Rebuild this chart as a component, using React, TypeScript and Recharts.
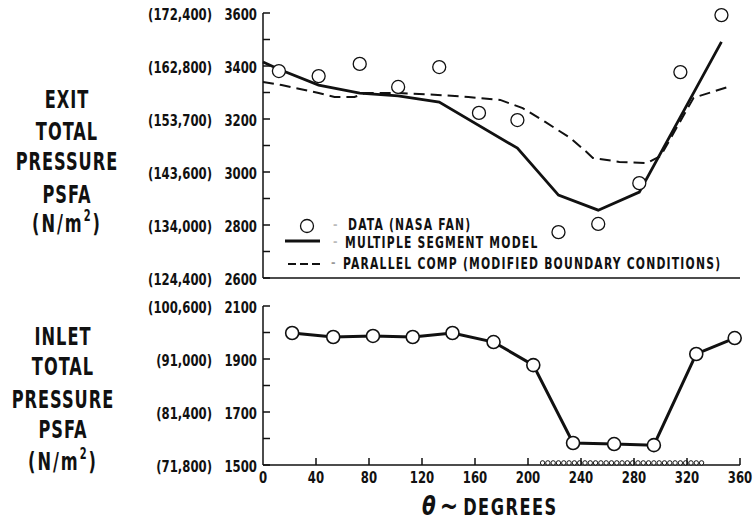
import React from 'react';
import { ComposedChart, Line, Scatter, XAxis, YAxis } from 'recharts';

// exit total pressure (top panel), PSFA vs circumferential angle
const exitDataDeg = [12, 42, 73, 102, 133, 163, 192, 223, 253, 284, 315, 346];
const exitDataPsfa = [3381, 3362, 3408, 3321, 3396, 3223, 3196, 2773, 2804, 2958, 3377, 3592];

const modelDeg = [0, 12, 42, 73, 102, 133, 192, 223, 253, 284, 346];
const modelPsfa = [3415, 3388, 3328, 3298, 3287, 3264, 3090, 2913, 2856, 2924, 3491];

const parallelDeg = [0, 14, 42, 54, 69, 77, 102, 132, 155, 179, 196, 213, 232, 245, 249, 269, 290, 300, 325, 351];
const parallelPsfa = [3340, 3328, 3298, 3283, 3283, 3298, 3298, 3291, 3283, 3272, 3241, 3189, 3128, 3072, 3053, 3038, 3034, 3060, 3280, 3321];

// inlet total pressure (bottom panel)
const inletDeg = [22, 53, 83, 113, 143, 174, 204, 234, 265, 295, 327, 356];
const inletPsfa = [1998, 1983, 1987, 1983, 1998, 1964, 1877, 1583, 1579, 1575, 1919, 1979];

// distortion screen marks along the bottom axis
const screenDeg = [211, 215, 219, 223, 227, 231, 235, 239, 243, 247, 251, 255, 259, 263, 267, 271, 275, 279, 283, 287, 291, 295, 299, 303, 307, 311, 315, 319, 323, 327, 331];
const screenPsfa = 1508;

// axis ticks
const degTicks = [0, 40, 80, 120, 160, 200, 240, 280, 320, 360];
const exitTicks = [2600, 2700, 2800, 2900, 3000, 3100, 3200, 3300, 3400, 3500, 3600];
const exitLabeled = [2600, 2800, 3000, 3200, 3400, 3600];
const exitNm2 = ['(124,400)', '(134,000)', '(143,600)', '(153,700)', '(162,800)', '(172,400)'];
const inletTicks = [1500, 1600, 1700, 1800, 1900, 2000, 2100];
const inletLabeled = [1500, 1700, 1900, 2100];
const inletNm2 = ['(71,800)', '(81,400)', '(91,000)', '(100,600)'];

const legendLabels = ['DATA (NASA FAN)', 'MULTIPLE SEGMENT MODEL', 'PARALLEL COMP (MODIFIED BOUNDARY CONDITIONS)'];
const exitTitle = ['EXIT', 'TOTAL', 'PRESSURE', 'PSFA'];
const inletTitle = ['INLET', 'TOTAL', 'PRESSURE', 'PSFA'];

const pts = (xs: number[], ys: number[]) => xs.map((d, i) => ({ deg: d, p: ys[i] }));

const exitPoints = pts(exitDataDeg, exitDataPsfa);
const modelLine = pts(modelDeg, modelPsfa);
const parallelLine = pts(parallelDeg, parallelPsfa);
const inletPoints = pts(inletDeg, inletPsfa);
const screenPoints = screenDeg.map((d) => ({ deg: d, p: screenPsfa }));

const INK = '#111';
const FONT = "'DejaVu Sans Condensed', 'DejaVu Sans', sans-serif";

const YTick = (props: any) => {
  const { x, y, payload, labeled, nm2 } = props;
  const idx = labeled.indexOf(payload.value);
  return (
    <g>
      <line x1={x} y1={y} x2={x + 7} y2={y} stroke={INK} strokeWidth={1.5} />
      {idx >= 0 && (
        <g fontFamily={FONT} fontWeight="bold" fontSize={13} fill={INK}>
          <text transform={`translate(${x - 6},${y + 7}) scale(1,1.2)`} textAnchor="end">{payload.value}</text>
          <text transform={`translate(${x - 51},${y + 7}) scale(1,1.2)`} textAnchor="end">{nm2[idx]}</text>
        </g>
      )}
    </g>
  );
};

const XTick = (props: any) => {
  const { x, y, payload } = props;
  return (
    <g>
      {payload.value !== 0 && <line x1={x} y1={y} x2={x} y2={y - 7} stroke={INK} strokeWidth={1.5} />}
      <text
        transform={`translate(${x},${y + 18}) scale(1,1.25)`}
        textAnchor="middle"
        fontFamily={FONT}
        fontWeight="bold"
        fontSize={13}
        fill={INK}
      >
        {payload.value}
      </text>
    </g>
  );
};

const ring = (r: number, sw: number) => (p: any) => (
  <circle cx={p.cx} cy={p.cy} r={r} fill="#fff" stroke={INK} strokeWidth={sw} />
);

const Title = ({ lines, cx, baselines }: { lines: string[]; cx: number; baselines: number[] }) => (
  <g fontFamily={FONT} fontWeight="bold" fontSize={18} fill={INK} letterSpacing={1} textAnchor="middle">
    {lines.map((t, i) => (
      <text key={t + i} transform={`translate(${cx},${baselines[i]}) scale(1,1.38)`}>{t}</text>
    ))}
    <text transform={`translate(${cx},${baselines[4]}) scale(1,1.38)`} letterSpacing={2}>
      (N/m<tspan fontSize={11} dy={-8}>2</tspan><tspan dy={8}>)</tspan>
    </text>
  </g>
);

export default function App() {
  return (
    <div style={{ position: 'absolute', left: 0, top: 0, width: 754, height: 525, background: '#fff', fontFamily: FONT }}>
      <div style={{ position: 'absolute', left: 0, top: 0 }}>
        <ComposedChart width={754} height={290} margin={{ top: 13, right: 14, bottom: 0, left: 0 }}>
          <XAxis
            type="number"
            dataKey="deg"
            domain={[0, 360]}
            height={12}
            tick={false}
            tickLine={false}
            axisLine={{ stroke: INK, strokeWidth: 1.5 }}
          />
          <YAxis
            type="number"
            dataKey="p"
            domain={[2600, 3600]}
            ticks={exitTicks}
            interval={0}
            width={263}
            tickSize={0}
            tickMargin={0}
            tickLine={false}
            axisLine={{ stroke: INK, strokeWidth: 1.5 }}
            tick={<YTick labeled={exitLabeled} nm2={exitNm2} />}
          />
          <Line data={parallelLine} dataKey="p" type="linear" stroke={INK} strokeWidth={2} strokeDasharray="11 6" dot={false} isAnimationActive={false} />
          <Line data={modelLine} dataKey="p" type="linear" stroke={INK} strokeWidth={2.8} dot={false} isAnimationActive={false} />
          <Scatter data={exitPoints} dataKey="p" shape={ring(6.5, 1.3)} isAnimationActive={false} />
        </ComposedChart>
      </div>
      <div style={{ position: 'absolute', left: 0, top: 290 }}>
        <ComposedChart width={754} height={235} margin={{ top: 16, right: 14, bottom: 0, left: 0 }}>
          <XAxis
            type="number"
            dataKey="deg"
            domain={[0, 360]}
            ticks={degTicks}
            interval={0}
            height={60}
            tickSize={0}
            tickMargin={0}
            tickLine={false}
            axisLine={{ stroke: INK, strokeWidth: 1.5 }}
            tick={<XTick />}
          />
          <YAxis
            type="number"
            dataKey="p"
            domain={[1500, 2100]}
            ticks={inletTicks}
            interval={0}
            width={263}
            tickSize={0}
            tickMargin={0}
            tickLine={false}
            axisLine={{ stroke: INK, strokeWidth: 1.5 }}
            tick={<YTick labeled={inletLabeled} nm2={inletNm2} />}
          />
          <Line data={inletPoints} dataKey="p" type="linear" stroke={INK} strokeWidth={3} dot={false} isAnimationActive={false} />
          <Scatter data={inletPoints} dataKey="p" shape={ring(6.5, 1.6)} isAnimationActive={false} />
          <Scatter data={screenPoints} dataKey="p" shape={ring(2.2, 1)} isAnimationActive={false} />
        </ComposedChart>
      </div>
      <svg width={754} height={525} style={{ position: 'absolute', left: 0, top: 0, pointerEvents: 'none' }}>
        <Title lines={exitTitle} cx={67} baselines={[108, 140, 170, 203, 232]} />
        <Title lines={inletTitle} cx={63} baselines={[345, 375, 408, 438, 470]} />
        {/* legend */}
        <g>
          <circle cx={307} cy={226} r={6.5} fill="#fff" stroke={INK} strokeWidth={1.3} />
          <line x1={285} y1={241} x2={320} y2={241} stroke={INK} strokeWidth={3} />
          <line x1={288} y1={264} x2={320} y2={264} stroke={INK} strokeWidth={2} strokeDasharray="8 4" />
          <g fontFamily={FONT} fontWeight="bold" fontSize={12} fill={INK} letterSpacing={1.2}>
            <text x={333} y={229} fill="#bbb">-</text>
            <text x={333} y={246} fill="#bbb">-</text>
            <text x={331} y={267} fill="#999">-</text>
            <text transform="translate(348,230) scale(1,1.25)">{legendLabels[0]}</text>
            <text transform="translate(345,248) scale(1,1.25)">{legendLabels[1]}</text>
            <text transform="translate(343,269) scale(1,1.25)">{legendLabels[2]}</text>
          </g>
        </g>
        {/* x axis title */}
        <text transform="translate(422,515) scale(1,1.3)" fontFamily="'DejaVu Sans', sans-serif" fontWeight="bold" fill={INK}>
          <tspan fontStyle="italic" fontSize={20}>θ</tspan>
          <tspan fontSize={22} dx={4}>~</tspan>
          <tspan fontFamily={FONT} fontSize={18} letterSpacing={1.5} dx={5}>DEGREES</tspan>
        </text>
      </svg>
    </div>
  );
}
